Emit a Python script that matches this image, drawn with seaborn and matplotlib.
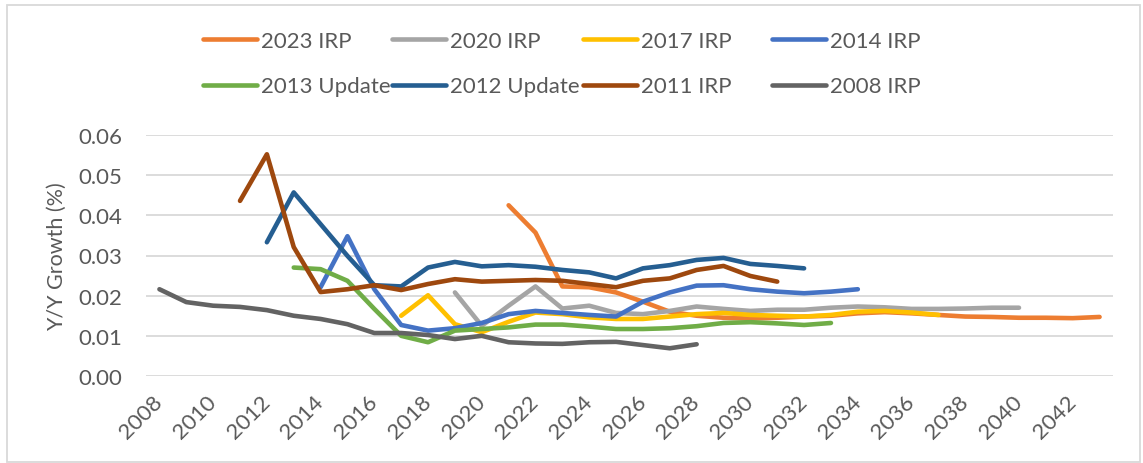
import numpy as np
import pandas as pd
import matplotlib
matplotlib.use("Agg")
import matplotlib.pyplot as plt
from matplotlib.lines import Line2D
from matplotlib.patches import Rectangle
from matplotlib.ticker import FormatStrFormatter
import seaborn as sns

# ---- data ----
series_names = ["2023 IRP", "2020 IRP", "2017 IRP", "2014 IRP",
                "2013 Update", "2012 Update", "2011 IRP", "2008 IRP"]
series_colors = ["#ED7D31", "#A5A5A5", "#FFC000", "#4472C4",
                 "#70AD47", "#255E91", "#9E480E", "#636363"]

start_2023 = 2021
irp_2023 = [0.0425, 0.0357, 0.0223, 0.0221, 0.0208, 0.0185, 0.0160, 0.0150, 0.0145,
            0.0143, 0.0145, 0.0148, 0.0150, 0.0156, 0.0159, 0.0156, 0.0152, 0.0148,
            0.0147, 0.0145, 0.0145, 0.0144, 0.0147]
start_2020 = 2019
irp_2020 = [0.0208, 0.0125, 0.0175, 0.0223, 0.0168, 0.0175, 0.0157, 0.0154, 0.0162,
            0.0173, 0.0167, 0.0162, 0.0165, 0.0165, 0.0170, 0.0173, 0.0171, 0.0167,
            0.0167, 0.0168, 0.0170, 0.0170]
start_2017 = 2017
irp_2017 = [0.0150, 0.0201, 0.0129, 0.0109, 0.0135, 0.0158, 0.0154, 0.0146, 0.0142,
            0.0142, 0.0148, 0.0154, 0.0157, 0.0152, 0.0150, 0.0148, 0.0152, 0.0160,
            0.0162, 0.0158, 0.0152]
start_2014 = 2014
irp_2014 = [0.0221, 0.0348, 0.0216, 0.0127, 0.0113, 0.0119, 0.0132, 0.0154, 0.0162,
            0.0157, 0.0152, 0.0148, 0.0185, 0.0208, 0.0225, 0.0226, 0.0216, 0.0210,
            0.0206, 0.0210, 0.0216]
start_2013u = 2013
upd_2013 = [0.0270, 0.0266, 0.0237, 0.0167, 0.0100, 0.0084, 0.0113, 0.0117, 0.0121,
            0.0128, 0.0128, 0.0123, 0.0117, 0.0117, 0.0119, 0.0124, 0.0132, 0.0134,
            0.0131, 0.0127, 0.0132]
start_2012u = 2012
upd_2012 = [0.0333, 0.0457, 0.0378, 0.0299, 0.0226, 0.0223, 0.0270, 0.0284, 0.0273,
            0.0276, 0.0272, 0.0264, 0.0258, 0.0243, 0.0268, 0.0276, 0.0289, 0.0294,
            0.0279, 0.0274, 0.0268]
start_2011 = 2011
irp_2011 = [0.0436, 0.0552, 0.0321, 0.0209, 0.0216, 0.0226, 0.0214, 0.0229, 0.0241,
            0.0235, 0.0237, 0.0239, 0.0237, 0.0229, 0.0221, 0.0237, 0.0243, 0.0264,
            0.0274, 0.0249, 0.0235]
start_2008 = 2008
irp_2008 = [0.0216, 0.0184, 0.0175, 0.0172, 0.0164, 0.0150, 0.0142, 0.0129, 0.0107,
            0.0107, 0.0102, 0.0092, 0.0100, 0.0084, 0.0081, 0.0080, 0.0084, 0.0085,
            0.0077, 0.0069, 0.0079]

x_tick_years = list(range(2008, 2043, 2))
y_ticks = [0.00, 0.01, 0.02, 0.03, 0.04, 0.05, 0.06]

series_list = [(start_2023, irp_2023), (start_2020, irp_2020), (start_2017, irp_2017),
               (start_2014, irp_2014), (start_2013u, upd_2013), (start_2012u, upd_2012),
               (start_2011, irp_2011), (start_2008, irp_2008)]

rows = []
for name, (start, vals) in zip(series_names, series_list):
    for i, v in enumerate(vals):
        rows.append({"year": start + i, "value": v, "series": name})
df = pd.DataFrame(rows)

# ---- style ----
sns.set_theme(style="white")
plt.rcParams["font.family"] = ["Lato", "DejaVu Sans"]
text_color = "#595959"
grid_color = "#D9D9D9"
FS = 16

W, H = 1143, 464
fig = plt.figure(figsize=(W / 100, H / 100), dpi=100)
ax = fig.add_axes([146 / W, 1 - 377 / H, (1113 - 146) / W, (377 - 136) / H])

palette = dict(zip(series_names, series_colors))
sns.lineplot(data=df, x="year", y="value", hue="series", hue_order=series_names,
             palette=palette, linewidth=3.3, legend=False, ax=ax,
             solid_capstyle="round", solid_joinstyle="round")

ax.set_xlim(2007.5, 2043.5)
ax.set_ylim(0, 0.06)
ax.set_yticks(y_ticks)
ax.yaxis.set_major_formatter(FormatStrFormatter("%.2f"))
ax.set_xticks(x_tick_years)
ax.set_xticklabels([str(y) for y in x_tick_years], rotation=45, ha="right",
                   va="center", rotation_mode="anchor")
ax.grid(axis="y", color=grid_color, linewidth=1.3)
ax.set_axisbelow(True)
for s in ax.spines.values():
    s.set_visible(False)
ax.tick_params(axis="both", length=0, labelsize=FS, colors=text_color)
ax.tick_params(axis="y", pad=17)
ax.tick_params(axis="x", pad=16)
ax.set_xlabel("")
ax.set_ylabel("Y/Y Growth (%)", fontsize=15.5, color=text_color, labelpad=8)

# ---- legend: 4 columns at fixed positions ----
handles = [Line2D([0], [0], color=c, linewidth=3.3, solid_capstyle="round")
           for c in series_colors]
col_x = [203, 392, 583, 772]
for j, x in enumerate(col_x):
    leg = fig.legend([handles[j], handles[j + 4]], [series_names[j], series_names[j + 4]],
                     loc="center left", bbox_to_anchor=(x / W, 1 - 64.5 / H),
                     frameon=False, fontsize=FS, handlelength=2.45, handletextpad=0.15,
                     labelspacing=1.15, borderpad=0, borderaxespad=0)
    for t in leg.get_texts():
        t.set_color(text_color)

# chart border
fig.patches.append(Rectangle((7 / W, 1 / H), 1133 / W, 457 / H, transform=fig.transFigure,
                             fill=False, edgecolor=grid_color, linewidth=1.3))

fig.savefig("out.png", dpi=100)
